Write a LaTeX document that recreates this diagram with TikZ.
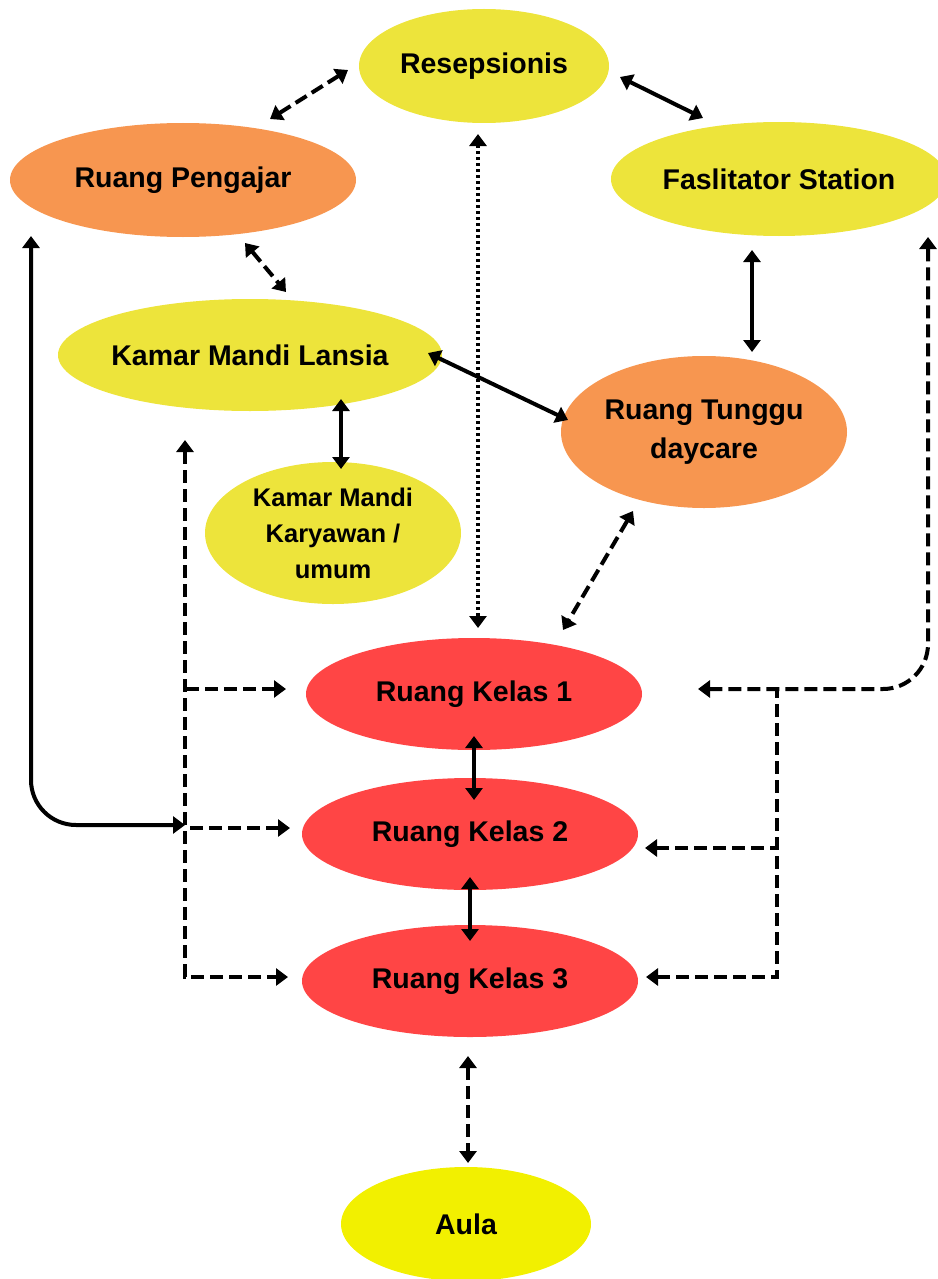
\documentclass[tikz,border=0pt]{standalone}
\usepackage{fontspec}
\setmainfont{Liberation Sans}
\usepackage{xcolor}
\usetikzlibrary{arrows.meta,shapes.geometric}

\definecolor{roomyellow}{RGB}{237,228,59}
\definecolor{roomorange}{RGB}{247,150,80}
\definecolor{roomred}{RGB}{255,69,69}
\definecolor{aulayellow}{RGB}{242,240,0}

\tikzset{
  room/.style={ellipse, draw=none, inner sep=0pt},
  roomtext/.style={font=\bfseries\fontsize{28.5}{39}\selectfont, align=center, text=black},
  link/.style={line width=4pt, {Triangle[length=12pt,width=17pt]}-{Triangle[length=12pt,width=17pt]}},
  dashlink/.style={link, dash pattern=on 13pt off 6pt},
  dotlink/.style={link, line width=3.4pt, dash pattern=on 3pt off 3pt},
  headonly/.style={-, {Triangle[length=12pt,width=17pt]}-}
}

\begin{document}
\begin{tikzpicture}[x=1pt, y=-1pt]
    \useasboundingbox (0,0) rectangle (937,1279);

    % Rooms
    \node[room, fill=roomyellow, minimum width=250pt, minimum height=114pt,
          label={[roomtext]center:Resepsionis}] (resepsionis) at (484,66) {};
    \node[room, fill=roomorange, minimum width=346pt, minimum height=114pt,
          label={[roomtext]center:Ruang Pengajar}] (pengajar) at (183,180) {};
    \node[room, fill=roomyellow, minimum width=336pt, minimum height=114pt,
          label={[roomtext]center:Faslitator Station}] (faslitator) at (779,179) {};
    \node[room, fill=roomyellow, minimum width=384pt, minimum height=112pt,
          label={[roomtext]center:Kamar Mandi Lansia}] (kmlansia) at (250,355) {};
    \node[room, fill=roomorange, minimum width=286pt, minimum height=152pt,
          label={[roomtext]center:Ruang Tunggu\\daycare}] (tunggu) at (704,432) {};
    \node[room, fill=roomyellow, minimum width=256pt, minimum height=142pt,
          label={[roomtext, font=\bfseries\fontsize{25.5}{36}\selectfont]center:Kamar Mandi\\Karyawan /\\umum}] (kmkaryawan) at (333,533) {};
    \node[room, fill=roomred, minimum width=336pt, minimum height=112pt,
          label={[roomtext]center:Ruang Kelas 1}] (kelas1) at (474,694) {};
    \node[room, fill=roomred, minimum width=336pt, minimum height=112pt,
          label={[roomtext]center:Ruang Kelas 2}] (kelas2) at (470,834) {};
    \node[room, fill=roomred, minimum width=336pt, minimum height=112pt,
          label={[roomtext]center:Ruang Kelas 3}] (kelas3) at (470,981) {};
    \node[room, fill=aulayellow, minimum width=250pt, minimum height=114pt,
          label={[roomtext]center:Aula}] (aula) at (466,1224) {};

    % Links between rooms
    \draw[dashlink] ([shift={(87,-61)}]pengajar.center) -- ([shift={(-136,4)}]resepsionis.center);
    \draw[link] ([shift={(136,11)}]resepsionis.center) -- ([shift={(-76,-61)}]faslitator.center);
    \draw[dotlink] ([shift={(-6,68)}]resepsionis.center) -- ([shift={(4,-66)}]kelas1.center);
    \draw[dashlink] ([shift={(62,63)}]pengajar.center) -- ([shift={(36,-63)}]kmlansia.center);
    \draw[link] ([shift={(-27,71)}]faslitator.center) -- ([shift={(48,-80)}]tunggu.center);
    \draw[link] ([shift={(178,-2)}]kmlansia.center) -- ([shift={(-136,-12)}]tunggu.center);
    \draw[link] ([shift={(91,44)}]kmlansia.center) -- ([shift={(8,-64)}]kmkaryawan.center);
    \draw[dashlink] ([shift={(-71,79)}]tunggu.center) -- ([shift={(89,-64)}]kelas1.center);
    \draw[link] ([shift={(0,42)}]kelas1.center) -- ([shift={(4,-34)}]kelas2.center);
    \draw[link] ([shift={(0,43)}]kelas2.center) -- ([shift={(0,-40)}]kelas3.center);
    \draw[dashlink] ([shift={(-2,75)}]kelas3.center) -- ([shift={(2,-61)}]aula.center);

    % Left side: Pengajar and Lansia to the classes
    \draw[link, rounded corners=45pt] ([shift={(-152,56)}]pengajar.center) |- ([shift={(-285,-9)}]kelas2.center);
    \draw[dashlink] ([shift={(-65,85)}]kmlansia.center) |- ([shift={(-182,-4)}]kelas3.center);
    \draw[dashlink, headonly] ([shift={(-188,-5)}]kelas1.center) -- ++(-101,0);
    \draw[dashlink, headonly] ([shift={(-180,-6)}]kelas2.center) -- ++(-105,0);

    % Right side: Faslitator to the classes
    \draw[dashlink, rounded corners=45pt] ([shift={(149,58)}]faslitator.center) |- ([shift={(224,-5)}]kelas1.center);
    \draw[dashlink, headonly] ([shift={(176,-4)}]kelas3.center) -| ([shift={(303,-5)}]kelas1.center);
    \draw[dashlink, headonly] ([shift={(175,14)}]kelas2.center) -- ++(132,0);
\end{tikzpicture}
\end{document}
